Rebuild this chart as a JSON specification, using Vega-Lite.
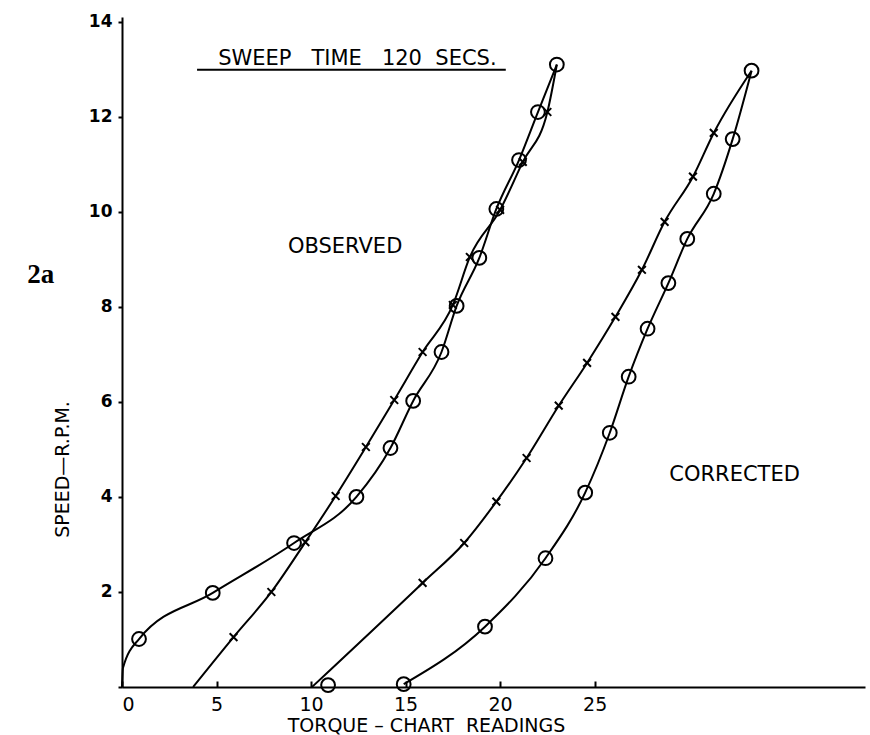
{
  "$schema": "https://vega.github.io/schema/vega-lite/v6.json",
  "autosize": {"type": "none"},
  "padding": {"left": 122, "top": 17, "right": 5, "bottom": 48},
  "width": 743,
  "height": 670,
  "background": "white",
  "config": {"view": {"stroke": null}, "font": "DejaVu Sans"},
  "datasets": {
    "curves": [
      {"series": "obsO", "x": 0, "y": 0, "mark": "none"},
      {"series": "obsO", "x": 0.05, "y": 0.4, "mark": "none"},
      {"series": "obsO", "x": 0.9, "y": 1.01, "mark": "circle"},
      {"series": "obsO", "x": 4.8, "y": 1.98, "mark": "circle"},
      {"series": "obsO", "x": 9.1, "y": 3.03, "mark": "circle"},
      {"series": "obsO", "x": 12.4, "y": 4.0, "mark": "circle"},
      {"series": "obsO", "x": 14.2, "y": 5.03, "mark": "circle"},
      {"series": "obsO", "x": 15.4, "y": 6.02, "mark": "circle"},
      {"series": "obsO", "x": 16.9, "y": 7.05, "mark": "circle"},
      {"series": "obsO", "x": 17.7, "y": 8.02, "mark": "circle"},
      {"series": "obsO", "x": 18.9, "y": 9.03, "mark": "circle"},
      {"series": "obsO", "x": 19.8, "y": 10.06, "mark": "circle"},
      {"series": "obsO", "x": 21.0, "y": 11.09, "mark": "circle"},
      {"series": "obsO", "x": 22.0, "y": 12.1, "mark": "circle"},
      {"series": "obsO", "x": 23.0, "y": 13.1, "mark": "circle"},
      {"series": "obsX", "x": 3.76, "y": 0, "mark": "none"},
      {"series": "obsX", "x": 5.9, "y": 1.05, "mark": "cross"},
      {"series": "obsX", "x": 7.9, "y": 2.0, "mark": "cross"},
      {"series": "obsX", "x": 9.7, "y": 3.05, "mark": "cross"},
      {"series": "obsX", "x": 11.3, "y": 4.02, "mark": "cross"},
      {"series": "obsX", "x": 12.9, "y": 5.05, "mark": "cross"},
      {"series": "obsX", "x": 14.4, "y": 6.04, "mark": "cross"},
      {"series": "obsX", "x": 15.9, "y": 7.05, "mark": "cross"},
      {"series": "obsX", "x": 17.5, "y": 8.04, "mark": "cross"},
      {"series": "obsX", "x": 18.4, "y": 9.05, "mark": "cross"},
      {"series": "obsX", "x": 20.0, "y": 10.04, "mark": "cross"},
      {"series": "obsX", "x": 21.2, "y": 11.05, "mark": "cross"},
      {"series": "obsX", "x": 22.5, "y": 12.1, "mark": "cross"},
      {"series": "obsX", "x": 23.0, "y": 13.1, "mark": "none"},
      {"series": "corX", "x": 10.05, "y": 0, "mark": "none"},
      {"series": "corX", "x": 15.9, "y": 2.19, "mark": "cross"},
      {"series": "corX", "x": 18.1, "y": 3.03, "mark": "cross"},
      {"series": "corX", "x": 19.8, "y": 3.9, "mark": "cross"},
      {"series": "corX", "x": 21.4, "y": 4.82, "mark": "cross"},
      {"series": "corX", "x": 23.1, "y": 5.92, "mark": "cross"},
      {"series": "corX", "x": 24.6, "y": 6.82, "mark": "cross"},
      {"series": "corX", "x": 26.1, "y": 7.79, "mark": "cross"},
      {"series": "corX", "x": 27.5, "y": 8.78, "mark": "cross"},
      {"series": "corX", "x": 28.7, "y": 9.79, "mark": "cross"},
      {"series": "corX", "x": 30.2, "y": 10.74, "mark": "cross"},
      {"series": "corX", "x": 31.3, "y": 11.66, "mark": "cross"},
      {"series": "corX", "x": 33.3, "y": 12.97, "mark": "none"},
      {"series": "corO", "x": 14.9, "y": 0.06, "mark": "circle"},
      {"series": "corO", "x": 19.2, "y": 1.27, "mark": "circle"},
      {"series": "corO", "x": 22.4, "y": 2.71, "mark": "circle"},
      {"series": "corO", "x": 24.5, "y": 4.09, "mark": "circle"},
      {"series": "corO", "x": 25.8, "y": 5.35, "mark": "circle"},
      {"series": "corO", "x": 26.8, "y": 6.53, "mark": "circle"},
      {"series": "corO", "x": 27.8, "y": 7.54, "mark": "circle"},
      {"series": "corO", "x": 28.9, "y": 8.5, "mark": "circle"},
      {"series": "corO", "x": 29.9, "y": 9.43, "mark": "circle"},
      {"series": "corO", "x": 31.3, "y": 10.38, "mark": "circle"},
      {"series": "corO", "x": 32.3, "y": 11.53, "mark": "circle"},
      {"series": "corO", "x": 33.3, "y": 12.97, "mark": "circle"},
      {"series": "extra", "x": 10.9, "y": 0.04, "mark": "circle"}
    ]
  },
  "layer": [
    {
      "data": {"name": "curves"},
      "transform": [{"filter": "datum.series != 'extra'"}],
      "mark": {"type": "line", "color": "black", "strokeWidth": 2, "interpolate": "monotone"},
      "encoding": {
        "x": {
          "field": "x", "type": "quantitative",
          "scale": {"domain": [0, 39.3], "nice": false, "zero": false},
          "axis": {
            "title": "TORQUE\u00a0–\u00a0CHART\u00a0\u00a0READINGS",
            "values": [0, 5, 10, 15, 20, 25],
            "grid": false,
            "domainColor": "black", "domainWidth": 2,
            "tickColor": "black", "tickWidth": 2, "tickSize": -6,
            "labelFont": "DejaVu Sans", "labelFontSize": 19, "labelColor": "black", "labelPadding": 14,
            "titleFont": "DejaVu Sans", "titleFontSize": 19, "titleFontWeight": "normal", "titleColor": "black",
            "titleX": 304, "titleY": 38, "titleAlign": "center", "titleBaseline": "middle"
          }
        },
        "y": {
          "field": "y", "type": "quantitative",
          "scale": {"domain": [0, 14.1], "nice": false, "zero": true},
          "axis": {
            "title": "SPEED—R.P.M.",
            "values": [0, 2, 4, 6, 8, 10, 12, 14],
            "labelExpr": "datum.value == 0 ? '' : datum.label",
            "grid": false,
            "domainColor": "black", "domainWidth": 2,
            "tickColor": "black", "tickWidth": 2, "tickSize": 4,
            "labelFont": "DejaVu Sans", "labelFontSize": 17, "labelFontWeight": "bold", "labelColor": "black", "labelPadding": 6,
            "titleFont": "DejaVu Sans", "titleFontSize": 19, "titleFontWeight": "normal", "titleColor": "black",
            "titleX": -60, "titleY": 452, "titleAngle": -90, "titleAlign": "center", "titleBaseline": "middle"
          }
        },
        "detail": {"field": "series"}
      }
    },
    {
      "data": {"name": "curves"},
      "transform": [{"filter": "datum.mark == 'circle'"}],
      "mark": {"type": "point", "shape": "circle", "filled": false, "color": "black", "strokeWidth": 2, "size": 190, "opacity": 1},
      "encoding": {
        "x": {"field": "x", "type": "quantitative"},
        "y": {"field": "y", "type": "quantitative"}
      }
    },
    {
      "data": {"name": "curves"},
      "transform": [{"filter": "datum.mark == 'cross'"}],
      "mark": {"type": "point", "shape": "M-1,-1L1,1M-1,1L1,-1", "filled": false, "color": "black", "strokeWidth": 2, "size": 60, "opacity": 1},
      "encoding": {
        "x": {"field": "x", "type": "quantitative"},
        "y": {"field": "y", "type": "quantitative"}
      }
    },
    {
      "data": {"values": [{"x": 3.97, "x2": 20.3, "y": 12.99}]},
      "mark": {"type": "rule", "color": "black", "strokeWidth": 2},
      "encoding": {
        "x": {"field": "x", "type": "quantitative"},
        "x2": {"field": "x2"},
        "y": {"field": "y", "type": "quantitative"}
      }
    },
    {
      "data": {"values": [
        {"label": "SWEEP\u00a0\u00a0\u00a0TIME\u00a0\u00a0\u00a0120\u00a0\u00a0SECS.", "x": 12.45, "y": 13.22}
      ]},
      "mark": {"type": "text", "font": "DejaVu Sans", "fontSize": 21, "color": "black", "align": "center", "baseline": "middle"},
      "encoding": {
        "x": {"field": "x", "type": "quantitative"},
        "y": {"field": "y", "type": "quantitative"},
        "text": {"field": "label"}
      }
    },
    {
      "data": {"values": [
        {"label": "OBSERVED", "x": 11.8, "y": 9.26},
        {"label": "CORRECTED", "x": 32.4, "y": 4.46}
      ]},
      "mark": {"type": "text", "font": "DejaVu Sans", "fontSize": 21, "color": "black", "align": "center", "baseline": "middle"},
      "encoding": {
        "x": {"field": "x", "type": "quantitative"},
        "y": {"field": "y", "type": "quantitative"},
        "text": {"field": "label"}
      }
    },
    {
      "data": {"values": [{"label": "2a", "x": -4.3, "y": 8.67}]},
      "mark": {"type": "text", "font": "Liberation Serif", "fontSize": 27, "fontWeight": "bold", "color": "black", "align": "center", "baseline": "middle"},
      "encoding": {
        "x": {"field": "x", "type": "quantitative"},
        "y": {"field": "y", "type": "quantitative"},
        "text": {"field": "label"}
      }
    }
  ]
}
